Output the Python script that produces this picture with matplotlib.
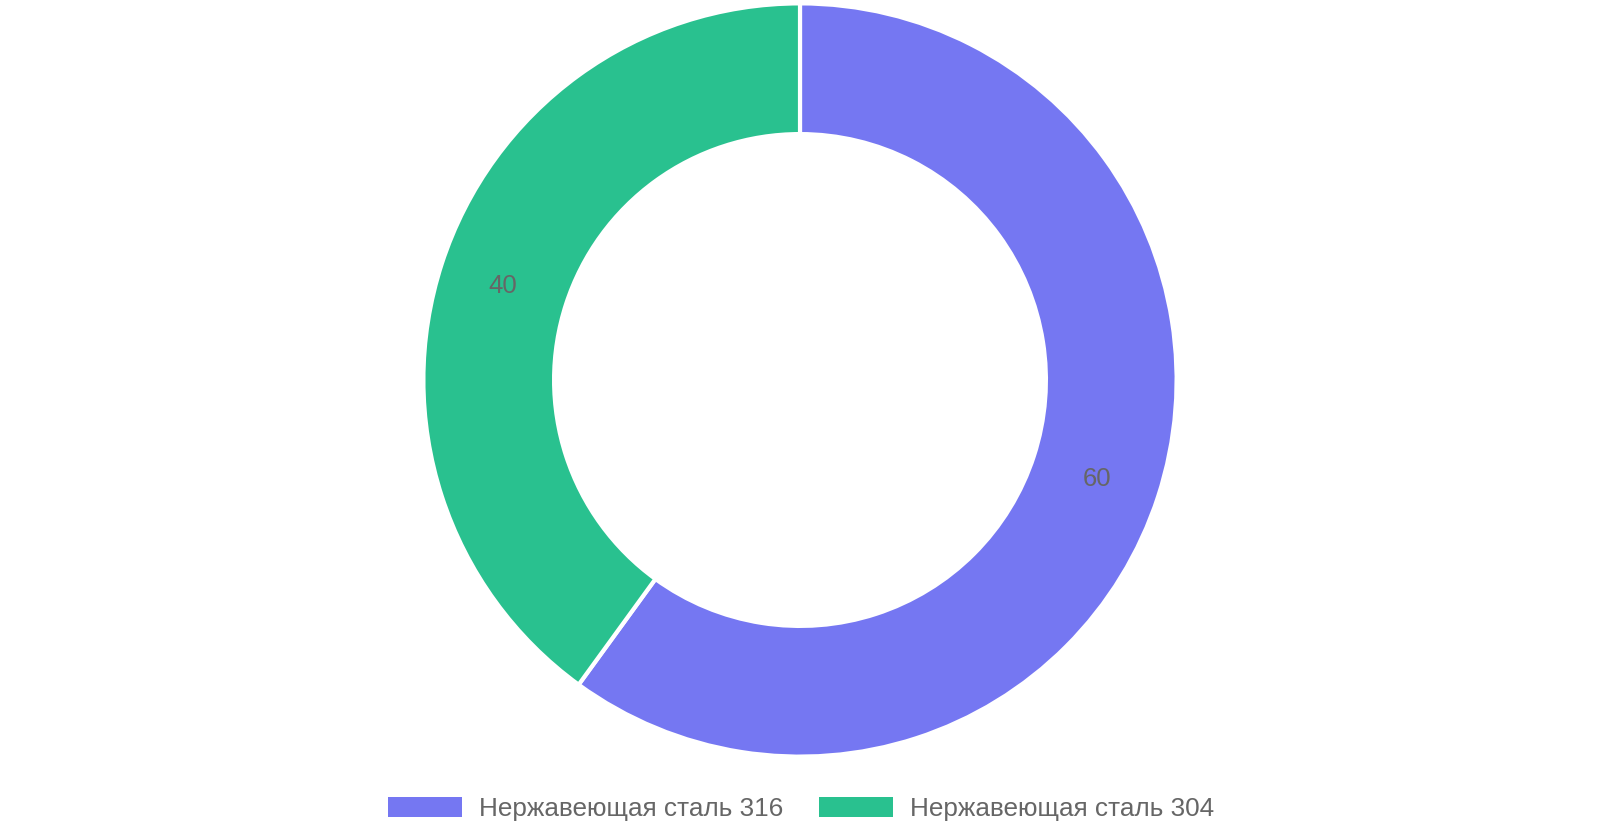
"""Donut chart: stainless steel grade share."""

import matplotlib
matplotlib.use("Agg")
import matplotlib.pyplot as plt
from matplotlib.patches import Patch

plt.rcParams["font.family"] = ["Liberation Sans", "DejaVu Sans"]

labels = ["Нержавеющая сталь 316", "Нержавеющая сталь 304"]
values = [60, 40]
colors = ["#7577F2", "#29C18F"]
text_color = "#666666"

fig = plt.figure(figsize=(16, 8.4), dpi=100)
# square axes, 749 px on a side, centred at (800, 380) px from the top
ax = fig.add_axes([425.5 / 1600, 85.5 / 840, 749 / 1600, 749 / 840])

wedges, _, autotexts = ax.pie(
    values,
    colors=colors,
    startangle=90,
    counterclock=False,
    radius=1.0,
    autopct=lambda p: f"{p * sum(values) / 100:.0f}",
    pctdistance=0.83,
    wedgeprops=dict(width=0.347, edgecolor="white", linewidth=3),
    textprops=dict(color=text_color, fontsize=18.5),
)
for t in autotexts:
    t.set_va("center_baseline")

# white edge eats ~2 px of the outer rim, so tighten the limits a bit
lim = 0.9944
ax.set_xlim(-lim, lim)
ax.set_ylim(-lim, lim)
ax.set_aspect("equal")
ax.axis("off")

handles = [Patch(facecolor=c, edgecolor="none") for c in colors]
leg = fig.legend(
    handles,
    labels,
    loc="center",
    bbox_to_anchor=(801 / 1600, 1 - 809 / 840),
    ncol=2,
    frameon=False,
    fontsize=18.8,
    handlelength=2.85,
    handleheight=0.82,
    handletextpad=0.64,
    columnspacing=1.38,
    borderpad=0,
)
for t in leg.get_texts():
    t.set_color(text_color)

fig.savefig("out.png", dpi=100)
plt.close(fig)
